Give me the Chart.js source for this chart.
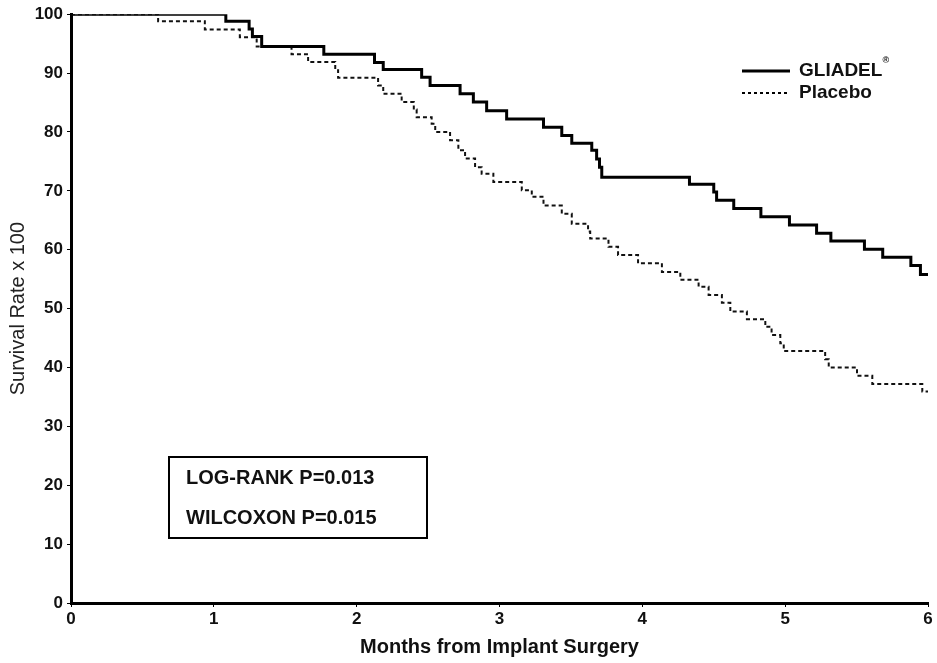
<!DOCTYPE html>
<html>
<head>
<meta charset="utf-8">
<script src="https://cdn.jsdelivr.net/npm/chart.js@4.4.1/dist/chart.umd.min.js"></script>
<style>
    html, body { margin: 0; padding: 0; background: #fff; }
    #wrap { width: 937px; height: 663px; position: relative; }
</style>
</head>
<body>
<div id="wrap"><canvas id="kmChart"></canvas></div>
<script>
// Kaplan-Meier steps: at each month the curve drops to the matching value
const gliadelMonths = [0, 1.084, 1.247, 1.27, 1.335, 1.77, 2.125, 2.186, 2.455, 2.514, 2.724, 2.817, 2.91, 3.05, 3.308, 3.436, 3.506, 3.646, 3.68, 3.70, 3.716, 4.33, 4.50, 4.52, 4.64, 4.83, 5.03, 5.22, 5.32, 5.555, 5.683, 5.88, 5.947, 6.0];
const gliadelSurvival = [100, 98.8, 97.5, 96.2, 94.5, 93.2, 91.8, 90.6, 89.3, 87.9, 86.5, 85.1, 83.6, 82.2, 80.8, 79.4, 78.1, 76.9, 75.4, 74.0, 72.3, 71.1, 69.8, 68.4, 67.0, 65.6, 64.2, 62.8, 61.5, 60.1, 58.7, 57.3, 55.8, 55.8];

const placeboMonths = [0, 0.61, 0.937, 1.182, 1.30, 1.544, 1.66, 1.85, 1.87, 2.15, 2.186, 2.315, 2.40, 2.42, 2.525, 2.55, 2.654, 2.712, 2.759, 2.829, 2.875, 2.957, 3.156, 3.226, 3.308, 3.436, 3.506, 3.62, 3.635, 3.763, 3.83, 3.97, 4.137, 4.266, 4.394, 4.464, 4.557, 4.616, 4.732, 4.861, 4.905, 4.966, 4.99, 5.28, 5.305, 5.503, 5.61, 5.96, 6.0];
const placeboSurvival = [100, 98.8, 97.4, 96.1, 94.5, 93.2, 91.9, 90.5, 89.2, 87.9, 86.5, 85.1, 83.8, 82.5, 81.4, 80.0, 78.6, 76.9, 75.5, 74.0, 72.9, 71.5, 70.1, 69.0, 67.5, 66.1, 64.4, 63.1, 61.9, 60.5, 59.1, 57.7, 56.2, 54.9, 53.7, 52.3, 51.0, 49.5, 48.2, 46.9, 45.5, 44.1, 42.8, 41.4, 40.0, 38.6, 37.2, 35.9, 35.9];

const statLines = ['LOG-RANK P=0.013', 'WILCOXON P=0.015'];

const narrow = '"Liberation Sans Narrow", "Liberation Sans", Arial, sans-serif';
const wide = '"Liberation Sans", Arial, sans-serif';

const toPoints = (xs, ys) => xs.map((x, i) => ({ x, y: ys[i] }));

// legend top right + stats box, drawn by hand to match the original figure
const annotations = {
    id: 'annotations',
    afterDraw(chart) {
        const ctx = chart.ctx;
        ctx.save();
        ctx.strokeStyle = '#000';
        ctx.fillStyle = '#111';

        const rows = [71, 93];
        chart.data.datasets.forEach((ds, i) => {
            const y = rows[i];
            ctx.beginPath();
            ctx.lineWidth = i === 0 ? 3 : 2;
            ctx.setLineDash(i === 0 ? [] : [3, 3]);
            ctx.moveTo(742, y);
            ctx.lineTo(790, y);
            ctx.stroke();
            ctx.setLineDash([]);
            ctx.font = 'bold 19px ' + wide;
            ctx.textBaseline = 'middle';
            ctx.textAlign = 'left';
            ctx.fillText(ds.label, 799, y);
            if (i === 0) {
                const w = ctx.measureText(ds.label).width;
                ctx.font = 'bold 9px ' + wide;
                ctx.fillText('\u00AE', 799 + w, y - 10);
            }
        });

        ctx.lineWidth = 2;
        ctx.strokeRect(169, 457, 258, 81);
        ctx.font = 'bold 20px ' + wide;
        ctx.textBaseline = 'middle';
        ctx.fillText(statLines[0], 186, 478);
        ctx.fillText(statLines[1], 186, 518);
        ctx.restore();
    }
};

new Chart(document.getElementById('kmChart'), {
    type: 'line',
    data: {
        datasets: [
            {
                label: 'GLIADEL',
                data: toPoints(gliadelMonths, gliadelSurvival),
                stepped: true,
                borderColor: '#000',
                borderWidth: 3,
                pointRadius: 0,
                fill: false
            },
            {
                label: 'Placebo',
                data: toPoints(placeboMonths, placeboSurvival),
                stepped: true,
                borderColor: '#111',
                borderWidth: 2,
                borderDash: [4, 3],
                pointRadius: 0,
                fill: false
            }
        ]
    },
    options: {
        responsive: true,
        maintainAspectRatio: false,
        animation: false,
        layout: { padding: { top: 13, right: 9, left: 0, bottom: 0 } },
        plugins: { legend: { display: false }, tooltip: { enabled: false } },
        scales: {
            x: {
                type: 'linear',
                min: 0,
                max: 6,
                afterFit: (scale) => { scale.height = 60; },
                border: { color: '#000', width: 3 },
                grid: { drawOnChartArea: false, color: '#000', tickLength: 4, lineWidth: 1 },
                ticks: { stepSize: 1, color: '#111', padding: 2, font: { family: narrow, size: 17, weight: 'bold' } },
                title: { display: true, text: 'Months from Implant Surgery', color: '#111', padding: { top: 0 }, font: { family: narrow, size: 20, weight: 'bold' } }
            },
            y: {
                min: 0,
                max: 100,
                afterFit: (scale) => { scale.width = 71; },
                border: { color: '#000', width: 3 },
                grid: { drawOnChartArea: false, color: '#000', tickLength: 4, lineWidth: 1 },
                ticks: { stepSize: 10, color: '#111', padding: 4, font: { family: wide, size: 17, weight: 'bold' } },
                title: { display: true, text: 'Survival Rate x 100', color: '#222', padding: { top: 6, bottom: 0 }, font: { family: wide, size: 20 } }
            }
        }
    },
    plugins: [annotations]
});
</script>
</body>
</html>
